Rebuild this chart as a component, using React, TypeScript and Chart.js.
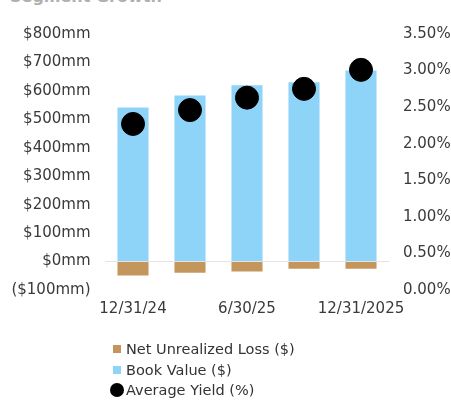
import React, { useEffect, useRef } from "react";
import { Chart, registerables } from "chart.js";

Chart.register(...registerables);

const categories = ["12/31/24", "3/31/25", "6/30/25", "9/30/25", "12/31/2025"];
const netUnrealizedLoss = [-49, -39, -35, -25, -25];
const bookValue = [542, 584, 620, 630, 672];
const averageYield = [2.27, 2.46, 2.63, 2.75, 3.01];
const shownXLabels = ["12/31/24", "6/30/25", "12/31/2025"];

const legendItems = [
  { label: "Net Unrealized Loss ($)", color: "#C4965C", shape: "square" },
  { label: "Book Value ($)", color: "#8ED3F8", shape: "square" },
  { label: "Average Yield (%)", color: "#000000", shape: "circle" },
];

const FONT = "'DejaVu Sans', sans-serif";

export default function App() {
  const canvasRef = useRef<HTMLCanvasElement | null>(null);

  useEffect(() => {
    if (!canvasRef.current) return;
    const chart = new Chart(canvasRef.current, {
      type: "bar",
      data: {
        labels: categories,
        datasets: [
          {
            type: "line" as any,
            label: "Average Yield (%)",
            data: averageYield,
            yAxisID: "y1",
            showLine: false,
            pointRadius: 11.5,
            pointHoverRadius: 11.5,
            pointBackgroundColor: "#000000",
            pointBorderColor: "#000000",
            borderColor: "#000000",
            backgroundColor: "#000000",
            order: 0,
          } as any,
          {
            label: "Net Unrealized Loss ($)",
            data: netUnrealizedLoss,
            backgroundColor: "#C4965C",
            yAxisID: "y",
            stack: "s",
            categoryPercentage: 1,
            barPercentage: 0.545,
            order: 1,
          },
          {
            label: "Book Value ($)",
            data: bookValue,
            backgroundColor: "#8ED3F8",
            yAxisID: "y",
            stack: "s",
            categoryPercentage: 1,
            barPercentage: 0.545,
            order: 1,
          },
        ],
      },
      options: {
        animation: false,
        responsive: true,
        maintainAspectRatio: false,
        layout: { padding: { top: 34, bottom: 0, left: 0, right: 0 } },
        plugins: {
          legend: { display: false },
          tooltip: { enabled: false },
          title: { display: false },
        },
        scales: {
          x: {
            stacked: true,
            grid: { display: false, drawTicks: false },
            border: { display: false },
            ticks: {
              autoSkip: false,
              maxRotation: 0,
              padding: 10,
              color: "#3a3a3a",
              font: { family: FONT, size: 15 },
              callback: function (this: any, _v: any, i: number) {
                const lab = categories[i];
                return shownXLabels.includes(lab) ? lab : "";
              },
            },
            afterFit: (s: any) => {
              s.height = 112;
            },
          },
          y: {
            stacked: true,
            position: "left",
            min: -100,
            max: 800,
            border: { display: false },
            grid: {
              drawTicks: false,
              color: (c: any) => (c.tick && c.tick.value === 0 ? "#e4e4e4" : "rgba(0,0,0,0)"),
            },
            ticks: {
              stepSize: 100,
              padding: 14,
              color: "#3a3a3a",
              font: { family: FONT, size: 15 },
              callback: (v: any) => (v < 0 ? `($${-v}mm)` : `$${v}mm`),
            },
            afterFit: (s: any) => {
              s.width = 104.5;
            },
          },
          y1: {
            position: "right",
            min: 0,
            max: 3.5,
            border: { display: false },
            grid: { display: false, drawTicks: false },
            ticks: {
              stepSize: 0.5,
              padding: 13.5,
              crossAlign: "near" as any,
              color: "#3a3a3a",
              font: { family: FONT, size: 15 },
              callback: (v: any) => `${Number(v).toFixed(2)}%`,
            },
            afterFit: (s: any) => {
              s.width = 61.5;
            },
          },
        },
      },
    });
    return () => chart.destroy();
  }, []);

  return (
    <div
      style={{
        position: "absolute",
        left: 0,
        top: 0,
        width: 451,
        height: 402,
        overflow: "hidden",
        background: "#ffffff",
        fontFamily: FONT,
      }}
    >
      <div
        style={{
          position: "absolute",
          left: 10,
          top: -11,
          fontSize: 16,
          lineHeight: "16px",
          fontWeight: "bold",
          color: "#b0b0b0",
          whiteSpace: "nowrap",
        }}
      >
        Segment Growth
      </div>
      <div style={{ position: "absolute", left: 0, top: 0, width: 451, height: 402 }}>
        <canvas ref={canvasRef} />
      </div>
      {legendItems.map((it, i) => (
        <div
          key={it.label}
          style={{
            position: "absolute",
            left: 109,
            top: 339 + i * 20.5,
            height: 20,
            display: "flex",
            alignItems: "center",
            fontSize: 14.5,
            color: "#333333",
            whiteSpace: "nowrap",
          }}
        >
          {it.shape === "square" ? (
            <span
              style={{
                display: "inline-block",
                width: 8,
                height: 8,
                marginLeft: 4,
                marginRight: 5,
                background: it.color,
              }}
            />
          ) : (
            <span
              style={{
                display: "inline-block",
                width: 14,
                height: 14,
                marginLeft: 1,
                marginRight: 2,
                borderRadius: "50%",
                background: it.color,
              }}
            />
          )}
          <span>{it.label}</span>
        </div>
      ))}
    </div>
  );
}
